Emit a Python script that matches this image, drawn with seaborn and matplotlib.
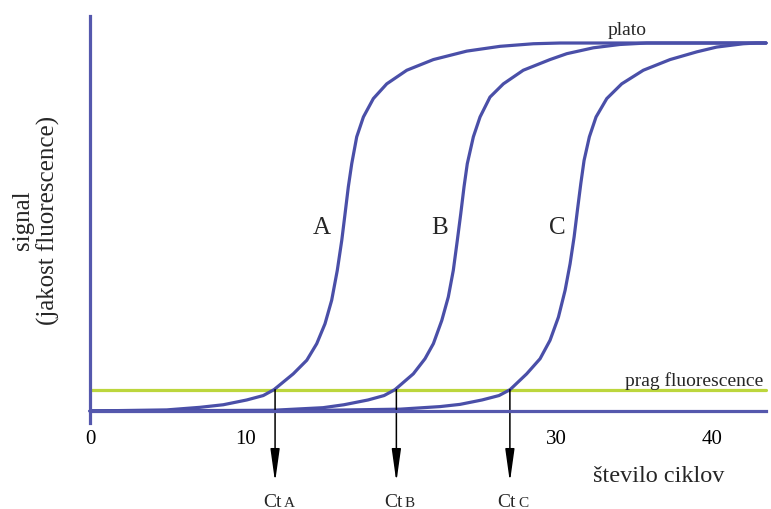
import matplotlib
matplotlib.use("Agg")
import matplotlib.pyplot as plt
import pandas as pd
import seaborn as sns

# Amplification curves (cycle number vs. normalised fluorescence signal)
curve_names = ["A", "B", "C"]

a_cycle = [0.00, 4.93, 7.07, 8.57, 10.08, 11.14, 11.83, 13.07, 13.94, 14.58, 15.11,
           15.54, 15.90, 16.19, 16.40, 16.61, 16.83, 17.15, 17.58, 18.22, 19.08,
           20.37, 22.08, 24.23, 26.37, 28.51, 30.23, 43.47]
a_signal = [0.000, 0.003, 0.010, 0.017, 0.030, 0.042, 0.058, 0.101, 0.138, 0.183, 0.237,
            0.301, 0.382, 0.464, 0.536, 0.609, 0.672, 0.745, 0.799, 0.849, 0.889,
            0.926, 0.955, 0.978, 0.991, 0.998, 1.000, 1.000]

b_cycle = [0.00, 11.77, 14.98, 16.33, 17.88, 18.91, 19.61, 20.79, 21.54, 22.08, 22.62,
           23.04, 23.36, 23.62, 23.84, 24.05, 24.26, 24.65, 25.08, 25.72, 26.58,
           27.86, 29.58, 30.66, 32.37, 34.08, 35.80, 43.47]
b_signal = [0.000, 0.002, 0.009, 0.017, 0.030, 0.042, 0.058, 0.101, 0.142, 0.183, 0.246,
            0.310, 0.382, 0.464, 0.536, 0.609, 0.672, 0.745, 0.799, 0.853, 0.889,
            0.926, 0.955, 0.971, 0.987, 0.996, 1.000, 1.000]

c_cycle = [0.00, 13.50, 19.94, 22.51, 23.79, 25.21, 26.30, 27.01, 28.08, 28.94, 29.58,
           30.12, 30.55, 30.87, 31.13, 31.34, 31.56, 31.77, 32.11, 32.54, 33.23,
           34.19, 35.58, 37.30, 39.02, 40.30, 42.01, 42.87, 43.47]
c_signal = [0.000, 0.001, 0.005, 0.012, 0.018, 0.030, 0.042, 0.058, 0.101, 0.142, 0.192,
            0.255, 0.328, 0.400, 0.473, 0.545, 0.618, 0.681, 0.745, 0.799, 0.849,
            0.889, 0.926, 0.955, 0.976, 0.989, 0.998, 1.000, 1.000]

ct_values = [11.9, 19.7, 27.0]
threshold = 0.058
label_cycle = [14.92, 22.51, 30.03]

tick_positions = [0, 5, 10, 15, 20, 25, 30, 35, 40]
tick_labels = ["0", "", "10", "", "", "", "30", "", "40"]

x_end = 43.47

curve_color = "#4a4fa8"
axis_color = "#5558ad"
threshold_color = "#bcd63c"

frames = []
for name, xs, ys in zip(curve_names, [a_cycle, b_cycle, c_cycle],
                        [a_signal, b_signal, c_signal]):
    frames.append(pd.DataFrame({"cycle": xs, "signal": ys, "curve": name}))
df = pd.concat(frames, ignore_index=True)

sns.set_style("white")
plt.rcParams["font.family"] = ["Liberation Serif", "DejaVu Serif"]

fig = plt.figure(figsize=(7.71, 5.10), dpi=100)
ax = fig.add_axes([0, 0, 1, 1])

# threshold line
sns.lineplot(x=[0, x_end], y=[threshold, threshold], color=threshold_color,
             lw=2.3, ax=ax, zorder=2)

# amplification curves
sns.lineplot(data=df, x="cycle", y="signal", hue="curve", estimator=None, sort=False,
             palette=[curve_color] * 3, legend=False, lw=2.3, ax=ax, zorder=3)

ax.set(xlabel="", ylabel="")
ax.set_xlim(-5.788, 43.79)
ax.set_ylim(-0.2663, 1.1196)

# axes drawn through the origin
for side in ["top", "right"]:
    ax.spines[side].set_visible(False)
ax.spines["left"].set_position(("data", 0))
ax.spines["bottom"].set_position(("data", 0))
ax.spines["left"].set_bounds(-0.033, 1.073)
ax.spines["bottom"].set_bounds(0, x_end)
for side in ["left", "bottom"]:
    ax.spines[side].set_color(axis_color)
    ax.spines[side].set_linewidth(2.3)
    ax.spines[side].set_zorder(4)

ax.set_yticks([])
ax.set_xticks(tick_positions)
ax.set_xticklabels(tick_labels)
ax.tick_params(axis="x", direction="out", length=8.6, width=2.0, color=axis_color,
               pad=4.5, labelsize=15, labelcolor="black")

# Ct arrows from the threshold crossings
for name, ct in zip(curve_names, ct_values):
    ax.annotate("", xy=(ct, -0.193), xytext=(ct, threshold),
                arrowprops=dict(arrowstyle="-|>,head_length=2.0,head_width=0.28",
                                color="black", lw=1.1, shrinkA=0, shrinkB=0))
    ax.annotate("Ct", xy=(ct, -0.258), xytext=(4.5, 0), textcoords="offset points",
                ha="right", va="baseline", fontsize=14)
    ax.annotate(name, xy=(ct, -0.258), xytext=(6, 0), textcoords="offset points",
                ha="left", va="baseline", fontsize=11)

# curve letters
for name, lx in zip(curve_names, label_cycle):
    ax.text(lx, 0.5, name, ha="center", va="center", fontsize=18)

ax.text(34.53, 1.038, "plato", ha="center", va="center", fontsize=14)
ax.text(43.3, 0.071, "prag fluorescence", ha="right", va="baseline", fontsize=14)
ax.text(36.6, -0.190, "število ciklov", ha="center", va="baseline", fontsize=17.5)
ax.text(-3.47, 0.52, "signal\n(jakost fluorescence)", ha="center", va="center",
        rotation=90, fontsize=18, linespacing=1.15)

fig.savefig("out.png", dpi=100)
